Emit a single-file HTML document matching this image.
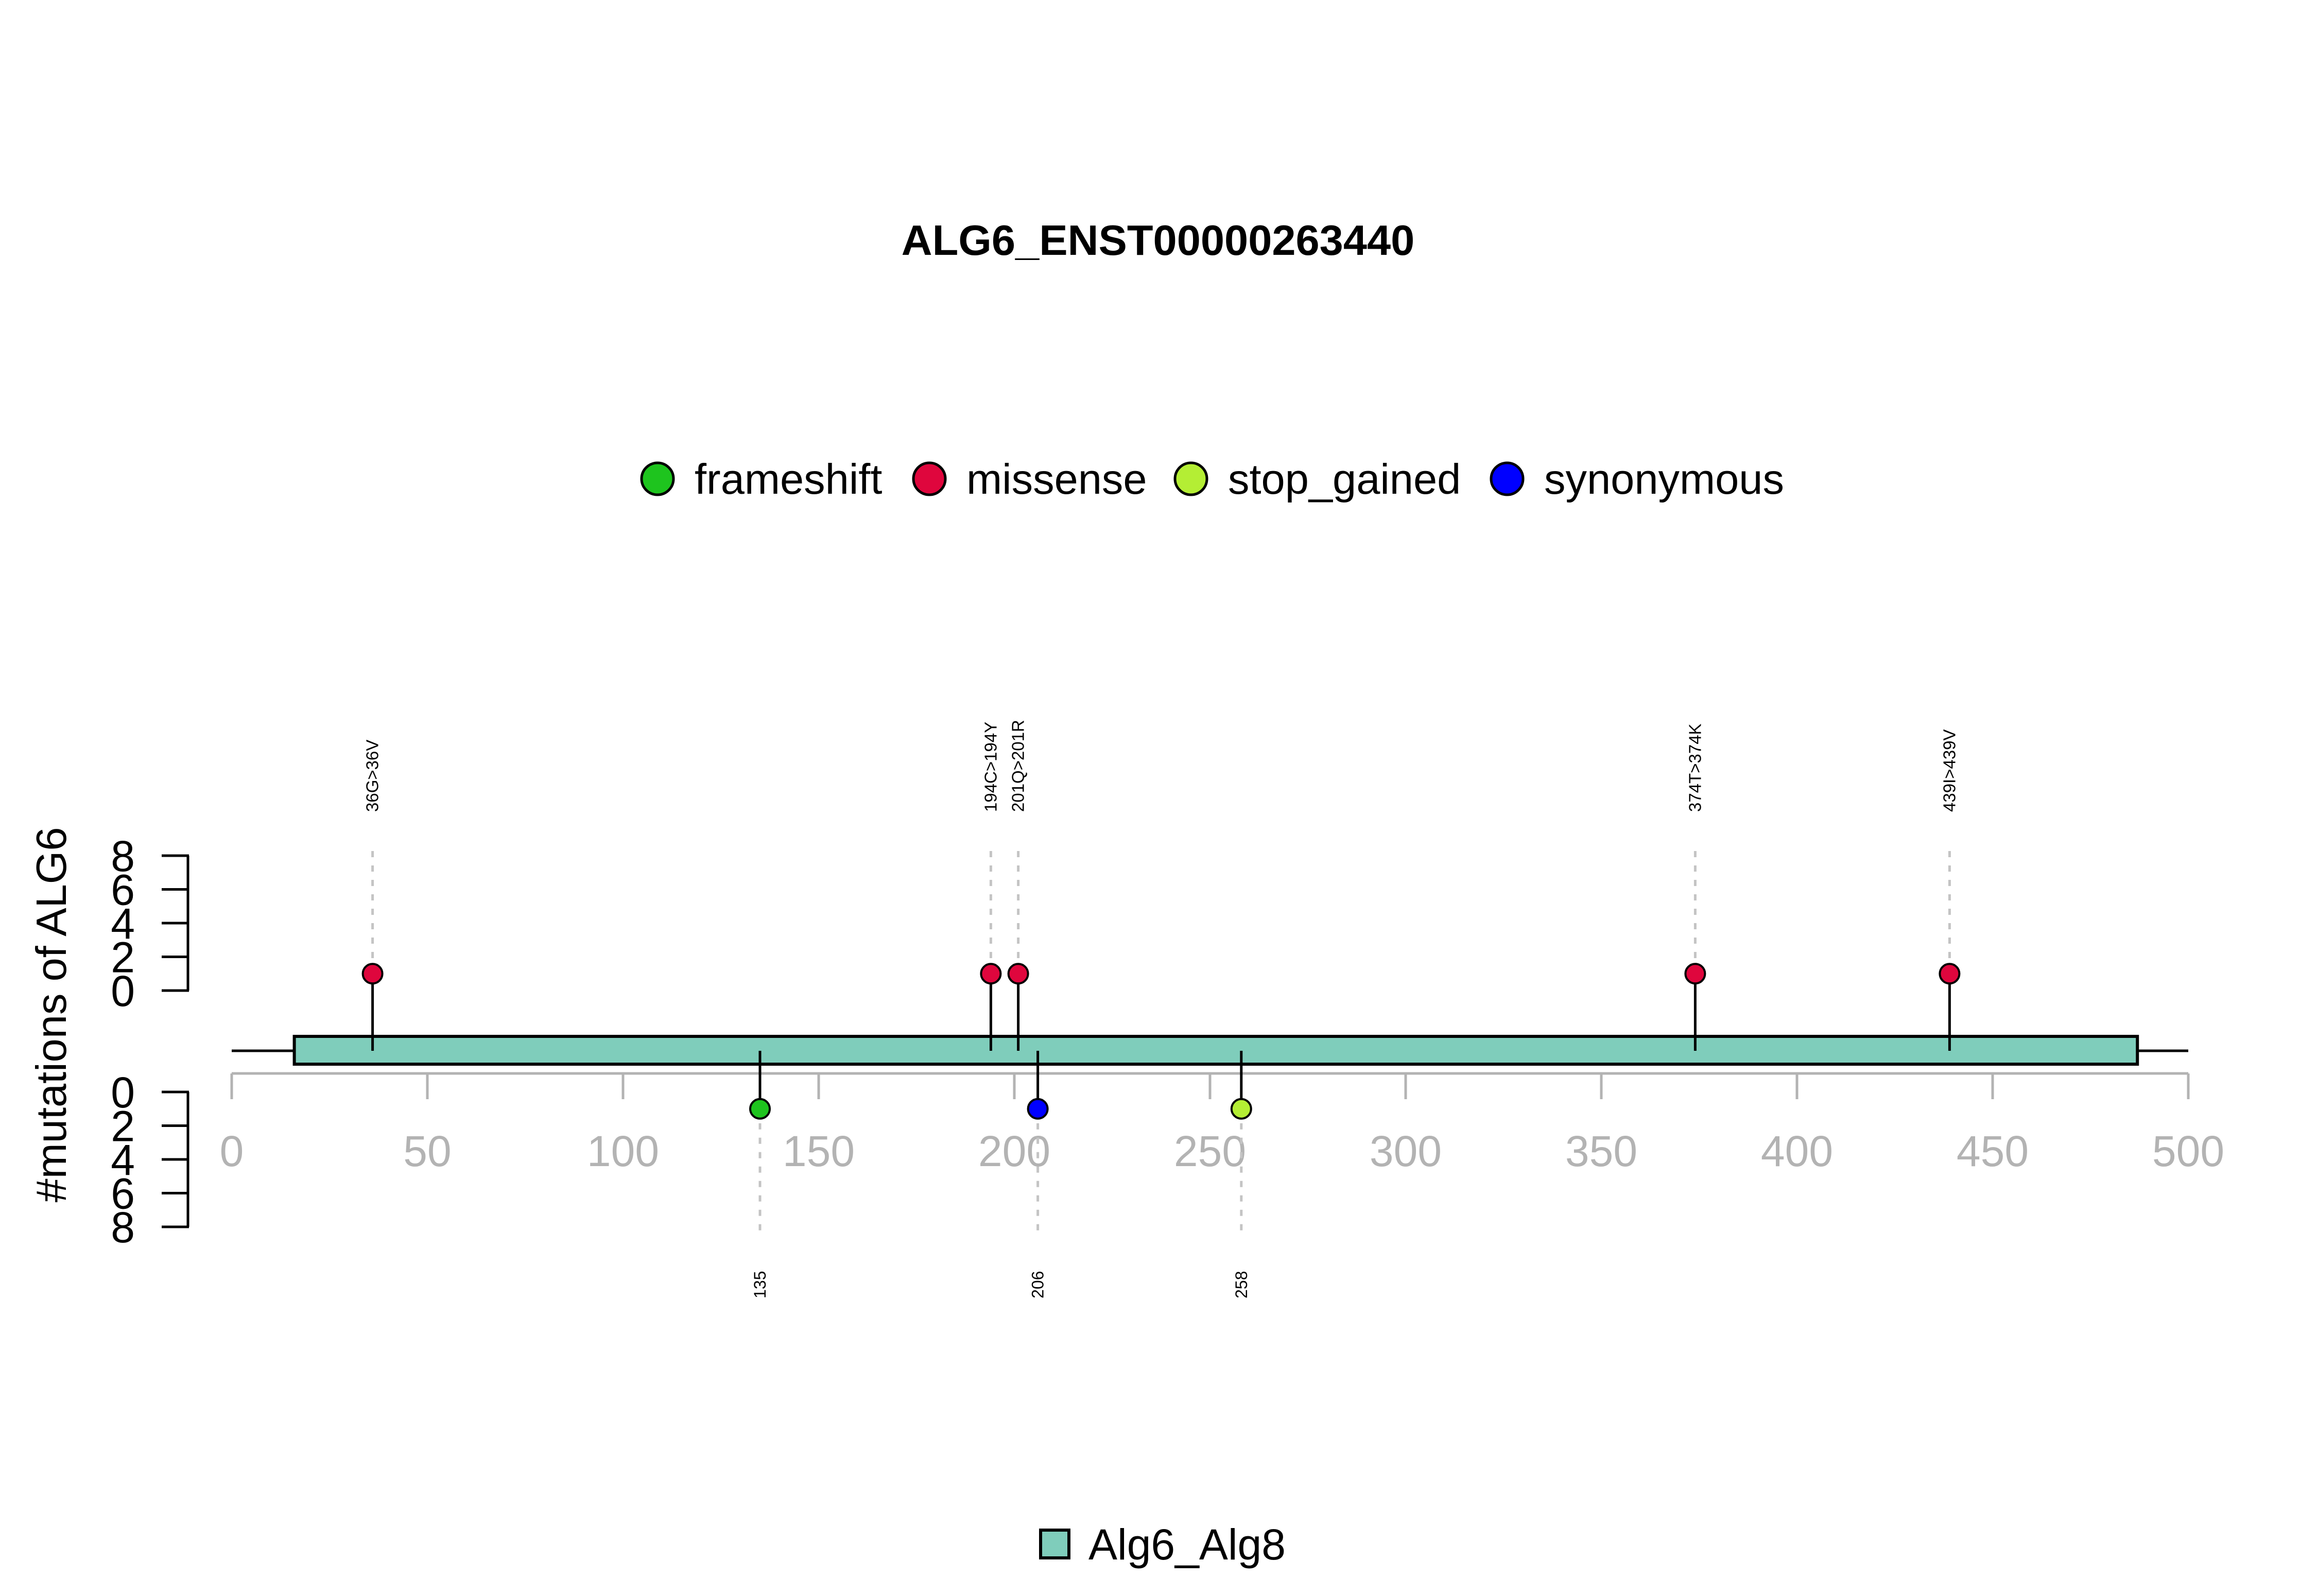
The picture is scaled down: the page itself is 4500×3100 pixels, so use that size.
<!DOCTYPE html>
<html><head><meta charset="utf-8"><style>
html,body{margin:0;padding:0;background:#fff;}
svg{display:block;font-family:"Liberation Sans",Arial,sans-serif;}
</style></head><body>
<svg id="chart" width="4500" height="3100" viewBox="0 0 4500 3100" xmlns="http://www.w3.org/2000/svg">
<rect width="4500" height="3100" fill="#fff"/>
<text x="2249" y="495" text-anchor="middle" font-size="83" font-weight="bold">ALG6_ENST00000263440</text>
<g id="legend"></g>
<g id="plot"></g>
<text transform="translate(128,1971) rotate(-90)" text-anchor="middle" font-size="83">#mutations of ALG6</text>
<g>
<rect x="2021" y="2972" width="55" height="54" fill="#7FCDBB" stroke="#000" stroke-width="6"/>
<text x="2114" y="3029" font-size="84">Alg6_Alg8</text>
</g>
</svg>
<script>
const legendTypes = ["frameshift","missense","stop_gained","synonymous"];
const typeColors = ["#1EC41E","#DF063D","#B4EE34","#0000FF"];
const upPos = [36,194,201,374,439];
const upCounts = [1,1,1,1,1];
const upTypes = ["missense","missense","missense","missense","missense"];
const upLabels = ["36G>36V","194C>194Y","201Q>201R","374T>374K","439I>439V"];
const downPos = [135,206,258];
const downCounts = [1,1,1];
const downTypes = ["frameshift","synonymous","stop_gained"];
const downLabels = ["135","206","258"];
const xTicks = [0,50,100,150,200,250,300,350,400,450,500];
const yTicks = [0,2,4,6,8];
const domainStart = 16, domainEnd = 487, proteinLen = 500;

const NS="http://www.w3.org/2000/svg";
const plot=document.getElementById('plot');
const leg=document.getElementById('legend');
function mk(tag,attrs,parent){const e=document.createElementNS(NS,tag);for(const k in attrs)e.setAttribute(k,attrs[k]);parent.appendChild(e);return e;}
const X = v => 450 + v*7.6;
const Yup = c => 1924 - c*32.75;
const Ydn = c => 2121 + c*32.75;
const colorOf = t => typeColors[legendTypes.indexOf(t)];

// legend
const legX=[1277,1805,2313,2927];
legendTypes.forEach((t,i)=>{
  const c=mk('circle',{cx:legX[i],cy:930,r:31,fill:typeColors[i],stroke:'#000','stroke-width':5},leg);
  
  
  const tx=mk('text',{x:legX[i]+72,y:959,'font-size':83},leg);
  tx.textContent=t;
  
  
});

// x axis
const xa=mk('line',{x1:X(0),x2:X(proteinLen),y1:2085,y2:2085,stroke:'#b3b3b3','stroke-width':5},plot);


xTicks.forEach(v=>{
  const l=mk('line',{x1:X(v),x2:X(v),y1:2085,y2:2135,stroke:'#b3b3b3','stroke-width':5},plot);
  
  
  const t=mk('text',{x:X(v),y:2265,'text-anchor':'middle','font-size':84,fill:'#b3b3b3'},plot);
  t.textContent=v;
  
  
});

// y axes
[[Yup,'upper'],[Ydn,'lower']].forEach(([f,nm])=>{
  const sp=mk('line',{x1:365,x2:365,y1:f(0),y2:f(8),stroke:'#000','stroke-width':5},plot);
  
  
  yTicks.forEach(v=>{
    const l=mk('line',{x1:314,x2:367,y1:f(v),y2:f(v),stroke:'#000','stroke-width':5},plot);
    
    
    const t=mk('text',{x:262,y:f(v)+30,'text-anchor':'end','font-size':84},plot);
    t.textContent=v;
    
    
  });
});

// backbone and domain
const bb=mk('line',{x1:X(0),x2:X(proteinLen),y1:2041,y2:2041,stroke:'#000','stroke-width':5},plot);


const dom=mk('rect',{x:X(domainStart),y:2013,width:X(domainEnd)-X(domainStart),height:54,fill:'#7FCDBB',stroke:'#000','stroke-width':6},plot);



// upper lollipops
upPos.forEach((p,i)=>{
  const x=X(p), y=Yup(upCounts[i]);
  const d=mk('line',{x1:x,x2:x,y1:1653,y2:y,stroke:'#c4c4c4','stroke-width':5,'stroke-dasharray':'12 16'},plot);
  
  
  const s=mk('line',{x1:x,x2:x,y1:y,y2:2041,stroke:'#000','stroke-width':5},plot);
  
  
  const c=mk('circle',{cx:x,cy:y,r:19,fill:colorOf(upTypes[i]),stroke:'#000','stroke-width':4},plot);
  
  
  const t=mk('text',{transform:`translate(${x+11},1577) rotate(-90)`,'font-size':33},plot);
  t.textContent=upLabels[i];
  
  
});

// lower lollipops
downPos.forEach((p,i)=>{
  const x=X(p), y=Ydn(downCounts[i]);
  const d=mk('line',{x1:x,x2:x,y1:y,y2:2394,stroke:'#c4c4c4','stroke-width':5,'stroke-dasharray':'12 16'},plot);
  
  
  const s=mk('line',{x1:x,x2:x,y1:2041,y2:y,stroke:'#000','stroke-width':5},plot);
  
  
  const c=mk('circle',{cx:x,cy:y,r:19,fill:colorOf(downTypes[i]),stroke:'#000','stroke-width':4},plot);
  
  
  const t=mk('text',{transform:`translate(${x+11},2522) rotate(-90)`,'font-size':32},plot);
  t.textContent=downLabels[i];
  
  
});
</script>
</body></html>
